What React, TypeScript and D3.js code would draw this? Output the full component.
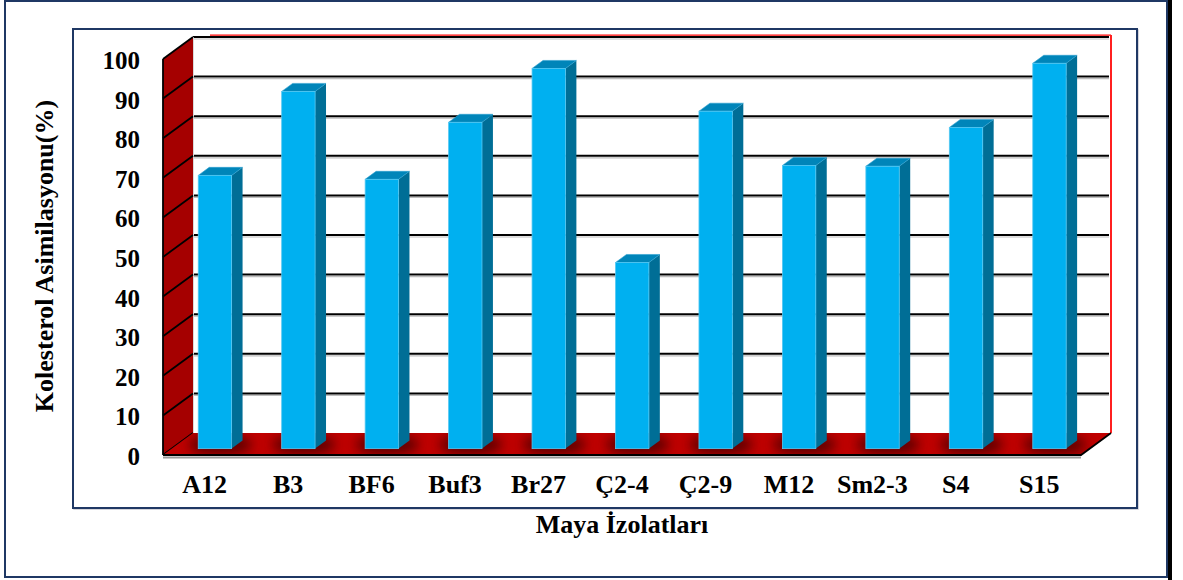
import React from 'react';
import * as d3 from 'd3';

// Cholesterol assimilation (%) per yeast isolate
const CATEGORIES = ['A12', 'B3', 'BF6', 'Buf3', 'Br27', 'Ç2-4', 'Ç2-9', 'M12', 'Sm2-3', 'S4', 'S15'];
const VALUES = [69, 90.2, 68, 82.4, 96, 47, 85.2, 71.5, 71.3, 81.1, 97.3];
const Y_TICKS = [0, 10, 20, 30, 40, 50, 60, 70, 80, 90, 100];
const Y_TITLE = 'Kolesterol Asimilasyonu(%)';
const X_TITLE = 'Maya İzolatları';

const W = 1183;
const H = 580;

// back wall plane
const BACK_LEFT = 193;
const BACK_RIGHT = 1111;
const BACK_BOTTOM = 433;
const BACK_TOP = 37;
// depth vector from back wall to front edge
const DEPTH_X = -30;
const DEPTH_Y = 22;
// bar depth span (0 = back wall, 1 = front edge)
const BAR_Z_FRONT = 0.71;
const BAR_Z_BACK = 0.345;

const FONT = '"Liberation Serif", "Times New Roman", serif';

export default function App() {
  const xBand = d3
    .scaleBand<string>()
    .domain(CATEGORIES)
    .range([BACK_LEFT, BACK_RIGHT])
    .paddingInner(0.6)
    .paddingOuter(0.3)
    .align(0.53);
  const xSlot = d3.scaleBand<string>().domain(CATEGORIES).range([BACK_LEFT, BACK_RIGHT]).padding(0);
  const y = d3.scaleLinear().domain([0, 100]).range([BACK_BOTTOM, BACK_TOP]);

  const p = (x: number, v: number, z: number): [number, number] => [x + DEPTH_X * z, y(v) + DEPTH_Y * z];
  const poly = (pts: [number, number][]) => pts.map((q) => q.join(',')).join(' ');

  const floorPts = [p(BACK_LEFT, 0, 0), p(BACK_RIGHT, 0, 0), p(BACK_RIGHT, 0, 1), p(BACK_LEFT, 0, 1)];
  const wallPts = [p(BACK_LEFT, 0, 0), p(BACK_LEFT, 100, 0), p(BACK_LEFT, 100, 1), p(BACK_LEFT, 0, 1)];
  const bw = xBand.bandwidth();

  return (
    <svg
      width={W}
      height={H}
      style={{ position: 'absolute', left: 0, top: 0, background: '#fff' }}
      fontFamily={FONT}
    >
      <defs>
        <filter id="baseBlur" x="-50%" y="-100%" width="200%" height="300%">
          <feGaussianBlur stdDeviation="6" />
        </filter>
        <clipPath id="floorClip">
          <polygon points={poly(floorPts)} />
        </clipPath>
      </defs>

      {/* outer frame */}
      <rect x={5} y={1} width={1162} height={576} fill="#fff" stroke="#1F3864" strokeWidth={2} />
      <line x1={1170} x2={1170} y1={0} y2={H} stroke="#000" strokeWidth={4} />

      {/* plot frame */}
      <rect x={74} y={30} width={1064} height={479} fill="none" stroke="#c8c8d0" strokeWidth={1.5} />
      <rect x={73} y={29} width={1064} height={479} fill="#fff" stroke="#1F3864" strokeWidth={2} />

      {/* back wall gridlines */}
      {Y_TICKS.filter((t) => t > 0).map((t) => (
        <g key={`g${t}`}>
          <line x1={BACK_LEFT} x2={BACK_RIGHT - 2} y1={y(t) + 2} y2={y(t) + 2} stroke="#bdbdbd" strokeWidth={1.2} />
          <line x1={BACK_LEFT} x2={BACK_RIGHT - 2} y1={y(t)} y2={y(t)} stroke="#000" strokeWidth={2} />
        </g>
      ))}
      {/* back wall red border */}
      <line x1={BACK_LEFT + 17} x2={BACK_RIGHT} y1={y(100) - 1.8} y2={y(100) - 1.8} stroke="#ff0000" strokeWidth={1.3} />
      <line x1={BACK_RIGHT} x2={BACK_RIGHT} y1={y(100) - 2} y2={BACK_BOTTOM} stroke="#ff2020" strokeWidth={2} />

      {/* left side wall */}
      <polygon points={poly(wallPts)} fill="#A50000" />
      <line x1={BACK_LEFT + 0.5} x2={BACK_LEFT + 0.5} y1={y(100)} y2={BACK_BOTTOM} stroke="#d9d9d9" strokeWidth={1} />
      {Y_TICKS.map((t) => {
        const a = p(BACK_LEFT, t, 0);
        const b = p(BACK_LEFT, t, 1);
        return <line key={`w${t}`} x1={a[0]} y1={a[1]} x2={b[0]} y2={b[1]} stroke="#000" strokeWidth={1.8} />;
      })}
      <line
        x1={p(BACK_LEFT, 0, 1)[0]}
        x2={p(BACK_LEFT, 100, 1)[0]}
        y1={p(BACK_LEFT, 0, 1)[1]}
        y2={p(BACK_LEFT, 100, 1)[1]}
        stroke="#000"
        strokeWidth={1.8}
      />

      {/* floor */}
      <polygon points={poly(floorPts)} fill="#C00000" />
      <g clipPath="url(#floorClip)">
        {CATEGORIES.map((c) => {
          const x0 = xBand(c) as number;
          const cf = p(x0 + bw / 2, 0, (BAR_Z_FRONT + BAR_Z_BACK) / 2);
          return (
            <ellipse
              key={`s${c}`}
              cx={cf[0]}
              cy={cf[1]}
              rx={bw * 0.95}
              ry={10}
              fill="#3a0000"
              opacity={0.75}
              filter="url(#baseBlur)"
            />
          );
        })}
      </g>
      <line
        x1={p(BACK_LEFT, 0, 1)[0]}
        x2={p(BACK_RIGHT, 0, 1)[0]}
        y1={p(BACK_LEFT, 0, 1)[1] + 2.5}
        y2={p(BACK_RIGHT, 0, 1)[1] + 2.5}
        stroke="#9a9a9a"
        strokeWidth={2}
      />
      <polyline
        points={poly([p(BACK_LEFT, 0, 1), p(BACK_RIGHT, 0, 1), p(BACK_RIGHT, 0, 0)])}
        fill="none"
        stroke="#000"
        strokeWidth={1.8}
      />

      {/* bars */}
      {CATEGORIES.map((c, i) => {
        const v = VALUES[i];
        const x0 = xBand(c) as number;
        const x1 = x0 + bw;
        const fbl = p(x0, 0, BAR_Z_FRONT);
        const ftl = p(x0, v, BAR_Z_FRONT);
        const ftr = p(x1, v, BAR_Z_FRONT);
        const fbr = p(x1, 0, BAR_Z_FRONT);
        const btl = p(x0, v, BAR_Z_BACK);
        const btr = p(x1, v, BAR_Z_BACK);
        const bbr = p(x1, 0, BAR_Z_BACK);
        return (
          <g key={`b${c}`}>
            <polygon points={poly([fbr, ftr, btr, bbr])} fill="#006E96" />
            <polygon points={poly([ftl, ftr, btr, btl])} fill="#0085B9" stroke="#2a9fd0" strokeWidth={0.6} />
            <rect
              x={ftl[0]}
              y={ftl[1]}
              width={fbr[0] - fbl[0]}
              height={fbl[1] - ftl[1]}
              fill="#00B0F0"
              stroke="#55c8f2"
              strokeWidth={0.8}
            />
          </g>
        );
      })}

      {/* value axis labels */}
      {Y_TICKS.map((t) => (
        <text
          key={`t${t}`}
          x={140}
          y={p(BACK_LEFT, t, 1)[1] + 1.5}
          textAnchor="end"
          dominantBaseline="central"
          fontSize={25}
          fontWeight="bold"
          fill="#000"
        >
          {t}
        </text>
      ))}

      {/* category labels */}
      {CATEGORIES.map((c) => (
        <text
          key={`c${c}`}
          x={(xSlot(c) as number) + xSlot.bandwidth() / 2 + DEPTH_X}
          y={493}
          textAnchor="middle"
          fontSize={26}
          fontWeight="bold"
          fill="#000"
        >
          {c}
        </text>
      ))}

      {/* axis titles */}
      <text x={622} y={533} textAnchor="middle" fontSize={26} fontWeight="bold" fill="#000">
        {X_TITLE}
      </text>
      <text
        transform="translate(53,256) rotate(-90)"
        textAnchor="middle"
        fontSize={26}
        fontWeight="bold"
        fill="#000"
      >
        {Y_TITLE}
      </text>
    </svg>
  );
}
